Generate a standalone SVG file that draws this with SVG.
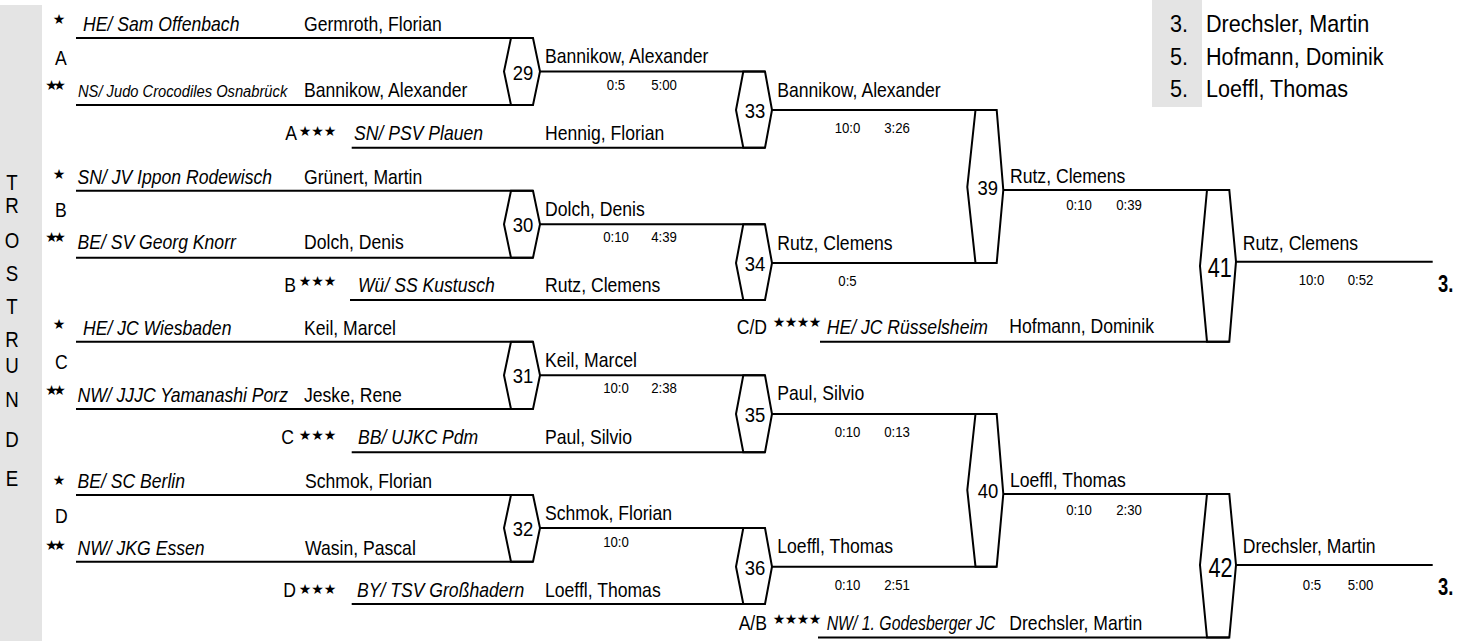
<svg xmlns="http://www.w3.org/2000/svg" width="1462" height="641" viewBox="0 0 1462 641">
<style>
text { font-family: "Liberation Sans", Arial, sans-serif; fill: #000; transform-box: fill-box; }
.t { font-size: 20px; transform: scaleX(.88); transform-origin: 0 50%; }
.c { font-style: italic; }
.sm { font-size: 16px; }
.s { font-size: 15px; text-anchor: middle; transform: scaleX(.88); transform-origin: 50% 50%; }
.n { font-size: 21px; text-anchor: middle; transform: scaleX(.88); transform-origin: 50% 50%; }
.nb { font-size: 27px; text-anchor: middle; transform: scaleX(.8); transform-origin: 50% 50%; }
.e { text-anchor: end; transform-origin: 100% 50%; }
.v { font-size: 22px; text-anchor: middle; transform: scaleX(.85); transform-origin: 50% 50%; }
.st { font-family: "DejaVu Sans", sans-serif; font-size: 14px; text-anchor: middle; transform: none; }
.b3 { font-size: 23px; font-weight: bold; transform: scaleX(.8); transform-origin: 0 50%; }
.lg { font-size: 24px; transform: scaleX(.9); transform-origin: 0 50%; }
.ln { stroke: #000; stroke-width: 2; fill: none; }
.hx { stroke: #000; stroke-width: 2; fill: none; stroke-linejoin: miter; }
.bg { fill: #e4e4e4; }
</style>

<g id="side-label">
  <rect class="bg" x="0" y="5" width="42" height="636"/>
  <text class="v" x="12" y="190">T</text>
  <text class="v" x="12" y="213">R</text>
  <text class="v" x="12" y="248">O</text>
  <text class="v" x="12" y="281">S</text>
  <text class="v" x="12" y="314">T</text>
  <text class="v" x="12" y="347">R</text>
  <text class="v" x="12" y="373">U</text>
  <text class="v" x="12" y="407">N</text>
  <text class="v" x="12" y="447">D</text>
  <text class="v" x="12" y="486">E</text>
</g>

<g id="legend">
  <rect class="bg" x="1152" y="0" width="50" height="107"/>
  <text class="lg" x="1170" y="32">3.</text>
  <text class="lg" x="1206" y="32">Drechsler, Martin</text>
  <text class="lg" x="1170" y="65">5.</text>
  <text class="lg" x="1206" y="65">Hofmann, Dominik</text>
  <text class="lg" x="1170" y="97">5.</text>
  <text class="lg" x="1206" y="97">Loeffl, Thomas</text>
</g>

<g id="connectors">
  <path class="ln" d="M76 38H533 M76 105H533 M351.7 147.7H765 M76 190.7H533 M76 257.7H533 M350 300H765 M76 341.7H533 M76 409H533 M351.7 452.3H765 M76 495H533 M76 561.7H533 M351.7 604H765 M540 71.5H765 M540 224.3H765 M540 375.3H765 M540 528H765 M772 110H996.7 M772 263H996.7 M772 414H996.7 M772 566.7H996.7 M1003.3 190H1229.3 M1003.3 494H1229.3 M820 341.7H1229.3 M818 637.5H1229.3 M1236 261.7H1432.7 M1236 565H1432.7"/>
</g>

<g id="pool-A">
  <text class="st" x="59" y="24">★</text>
  <text class="t c" x="83" y="31.5">HE/ Sam Offenbach</text>
  <text class="t" x="304" y="31.5">Germroth, Florian</text>
  <text class="t" x="55" y="65">A</text>
  <text class="st" x="51.5 59.5" y="90">★★</text>
  <text class="t c sm" x="78" y="97" style="transform:scaleX(.92)">NS/ Judo Crocodiles Osnabrück</text>
  <text class="t" x="304" y="97">Bannikow, Alexander</text>
  <text class="t e" x="297" y="140">A</text>
  <text class="st" x="305 317.5 330" y="136">★★★</text>
  <text class="t c" x="354" y="140">SN/ PSV Plauen</text>
  <text class="t" x="545" y="140">Hennig, Florian</text>
</g>

<g id="pool-B">
  <text class="st" x="59" y="179">★</text>
  <text class="t c" x="77.5" y="184">SN/ JV Ippon Rodewisch</text>
  <text class="t" x="304" y="184">Grünert, Martin</text>
  <text class="t" x="55" y="217">B</text>
  <text class="st" x="51.5 59.5" y="242">★★</text>
  <text class="t c" x="77.5" y="249">BE/ SV Georg Knorr</text>
  <text class="t" x="304" y="249">Dolch, Denis</text>
  <text class="t e" x="296" y="292">B</text>
  <text class="st" x="305 317.5 330" y="286">★★★</text>
  <text class="t c" x="358" y="292">Wü/ SS Kustusch</text>
  <text class="t" x="545" y="292">Rutz, Clemens</text>
</g>

<g id="pool-C">
  <text class="st" x="59" y="329">★</text>
  <text class="t c" x="83" y="335">HE/ JC Wiesbaden</text>
  <text class="t" x="304" y="335">Keil, Marcel</text>
  <text class="t" x="55" y="369">C</text>
  <text class="st" x="51.5 59.5" y="395">★★</text>
  <text class="t c" x="77.5" y="402">NW/ JJJC Yamanashi Porz</text>
  <text class="t" x="304" y="402">Jeske, Rene</text>
  <text class="t e" x="294" y="444">C</text>
  <text class="st" x="305 317.5 330" y="440">★★★</text>
  <text class="t c" x="358" y="444">BB/ UJKC Pdm</text>
  <text class="t" x="545" y="444">Paul, Silvio</text>
</g>

<g id="pool-D">
  <text class="st" x="59" y="485">★</text>
  <text class="t c" x="77.5" y="488">BE/ SC Berlin</text>
  <text class="t" x="305" y="488">Schmok, Florian</text>
  <text class="t" x="55" y="523">D</text>
  <text class="st" x="51.5 59.5" y="550">★★</text>
  <text class="t c" x="77.5" y="555">NW/ JKG Essen</text>
  <text class="t" x="305" y="555">Wasin, Pascal</text>
  <text class="t e" x="296" y="597">D</text>
  <text class="st" x="305 317.5 330" y="594">★★★</text>
  <text class="t c" x="357" y="597">BY/ TSV Großhadern</text>
  <text class="t" x="545" y="597">Loeffl, Thomas</text>
</g>

<g id="repechage-CD">
  <text class="t e" x="767" y="334">C/D</text>
  <text class="st" x="779 791 803 815" y="327">★★★★</text>
  <text class="t c" x="826.7" y="334">HE/ JC Rüsselsheim</text>
  <text class="t" x="1009.3" y="333">Hofmann, Dominik</text>
</g>

<g id="repechage-AB">
  <text class="t e" x="767" y="630">A/B</text>
  <text class="st" x="779 791 803 815" y="624">★★★★</text>
  <text class="t c" x="826.7" y="630" style="transform:scaleX(.79)">NW/ 1. Godesberger JC</text>
  <text class="t" x="1009.3" y="630">Drechsler, Martin</text>
</g>

<g id="match-29">
  <polygon class="hx" points="511,38 533,38 540,71.5 533,105 511,105 504,71.5"/>
  <text class="n" x="523" y="80">29</text>
  <text class="t" x="545" y="63.3">Bannikow, Alexander</text>
  <text class="s" x="616" y="90">0:5</text>
  <text class="s" x="664" y="90">5:00</text>
</g>
<g id="match-30">
  <polygon class="hx" points="511,190.7 533,190.7 540,224.3 533,257.7 511,257.7 504,224.3"/>
  <text class="n" x="523" y="232">30</text>
  <text class="t" x="545" y="216">Dolch, Denis</text>
  <text class="s" x="616" y="242">0:10</text>
  <text class="s" x="664" y="242">4:39</text>
</g>
<g id="match-31">
  <polygon class="hx" points="511,341.7 533,341.7 540,375.3 533,409 511,409 504,375.3"/>
  <text class="n" x="523" y="383.5">31</text>
  <text class="t" x="545" y="366.7">Keil, Marcel</text>
  <text class="s" x="616" y="393.3">10:0</text>
  <text class="s" x="664" y="393.3">2:38</text>
</g>
<g id="match-32">
  <polygon class="hx" points="511,495 533,495 540,528 533,561.7 511,561.7 504,528"/>
  <text class="n" x="523" y="536.5">32</text>
  <text class="t" x="545" y="520">Schmok, Florian</text>
  <text class="s" x="616" y="546.7">10:0</text>
</g>
<g id="match-33">
  <polygon class="hx" points="743.3,71.5 765,71.5 772,110 765,147.7 743.3,147.7 736,110"/>
  <text class="n" x="755" y="118">33</text>
  <text class="t" x="777.3" y="96.7">Bannikow, Alexander</text>
  <text class="s" x="847.5" y="133">10:0</text>
  <text class="s" x="897" y="133">3:26</text>
</g>
<g id="match-34">
  <polygon class="hx" points="743.3,224.3 765,224.3 772,263 765,300 743.3,300 736,263"/>
  <text class="n" x="755" y="271.5">34</text>
  <text class="t" x="777.3" y="250">Rutz, Clemens</text>
  <text class="s" x="847.5" y="285.7">0:5</text>
</g>
<g id="match-35">
  <polygon class="hx" points="743.3,375.3 765,375.3 772,414 765,452.3 743.3,452.3 736,414"/>
  <text class="n" x="755" y="421.7">35</text>
  <text class="t" x="777.3" y="400">Paul, Silvio</text>
  <text class="s" x="847.5" y="436.7">0:10</text>
  <text class="s" x="897" y="436.7">0:13</text>
</g>
<g id="match-36">
  <polygon class="hx" points="743.3,528 765,528 772,566.7 765,604 743.3,604 736,566.7"/>
  <text class="n" x="755" y="575">36</text>
  <text class="t" x="777.3" y="553.3">Loeffl, Thomas</text>
  <text class="s" x="847.5" y="590">0:10</text>
  <text class="s" x="897" y="590">2:51</text>
</g>
<g id="match-39">
  <polygon class="hx" points="975.5,110 996.7,110 1003.3,190 996.7,263 975.5,263 967.3,187"/>
  <text class="n" x="987.7" y="195">39</text>
  <text class="t" x="1010" y="183.3">Rutz, Clemens</text>
  <text class="s" x="1079" y="210">0:10</text>
  <text class="s" x="1129" y="210">0:39</text>
</g>
<g id="match-40">
  <polygon class="hx" points="975.5,414 996.7,414 1003.3,494 996.7,566.7 975.5,566.7 967.3,490"/>
  <text class="n" x="988" y="498">40</text>
  <text class="t" x="1010" y="486.7">Loeffl, Thomas</text>
  <text class="s" x="1079" y="515">0:10</text>
  <text class="s" x="1129" y="515">2:30</text>
</g>
<g id="match-41">
  <polygon class="hx" points="1207,190 1229.3,190 1236,261.7 1229.3,341.7 1207,341.7 1200,266"/>
  <text class="nb" x="1219.7" y="276.7">41</text>
  <text class="t" x="1242.7" y="250">Rutz, Clemens</text>
  <text class="s" x="1311.5" y="285">10:0</text>
  <text class="s" x="1360.5" y="285">0:52</text>
  <text class="b3" x="1438" y="291.7">3.</text>
</g>
<g id="match-42">
  <polygon class="hx" points="1207,494 1229.3,494 1236,565 1229.3,637.5 1207,637.5 1200,565"/>
  <text class="nb" x="1220.5" y="576.7">42</text>
  <text class="t" x="1242.7" y="553">Drechsler, Martin</text>
  <text class="s" x="1312" y="590">0:5</text>
  <text class="s" x="1360.5" y="590">5:00</text>
  <text class="b3" x="1438" y="595">3.</text>
</g>
</svg>
